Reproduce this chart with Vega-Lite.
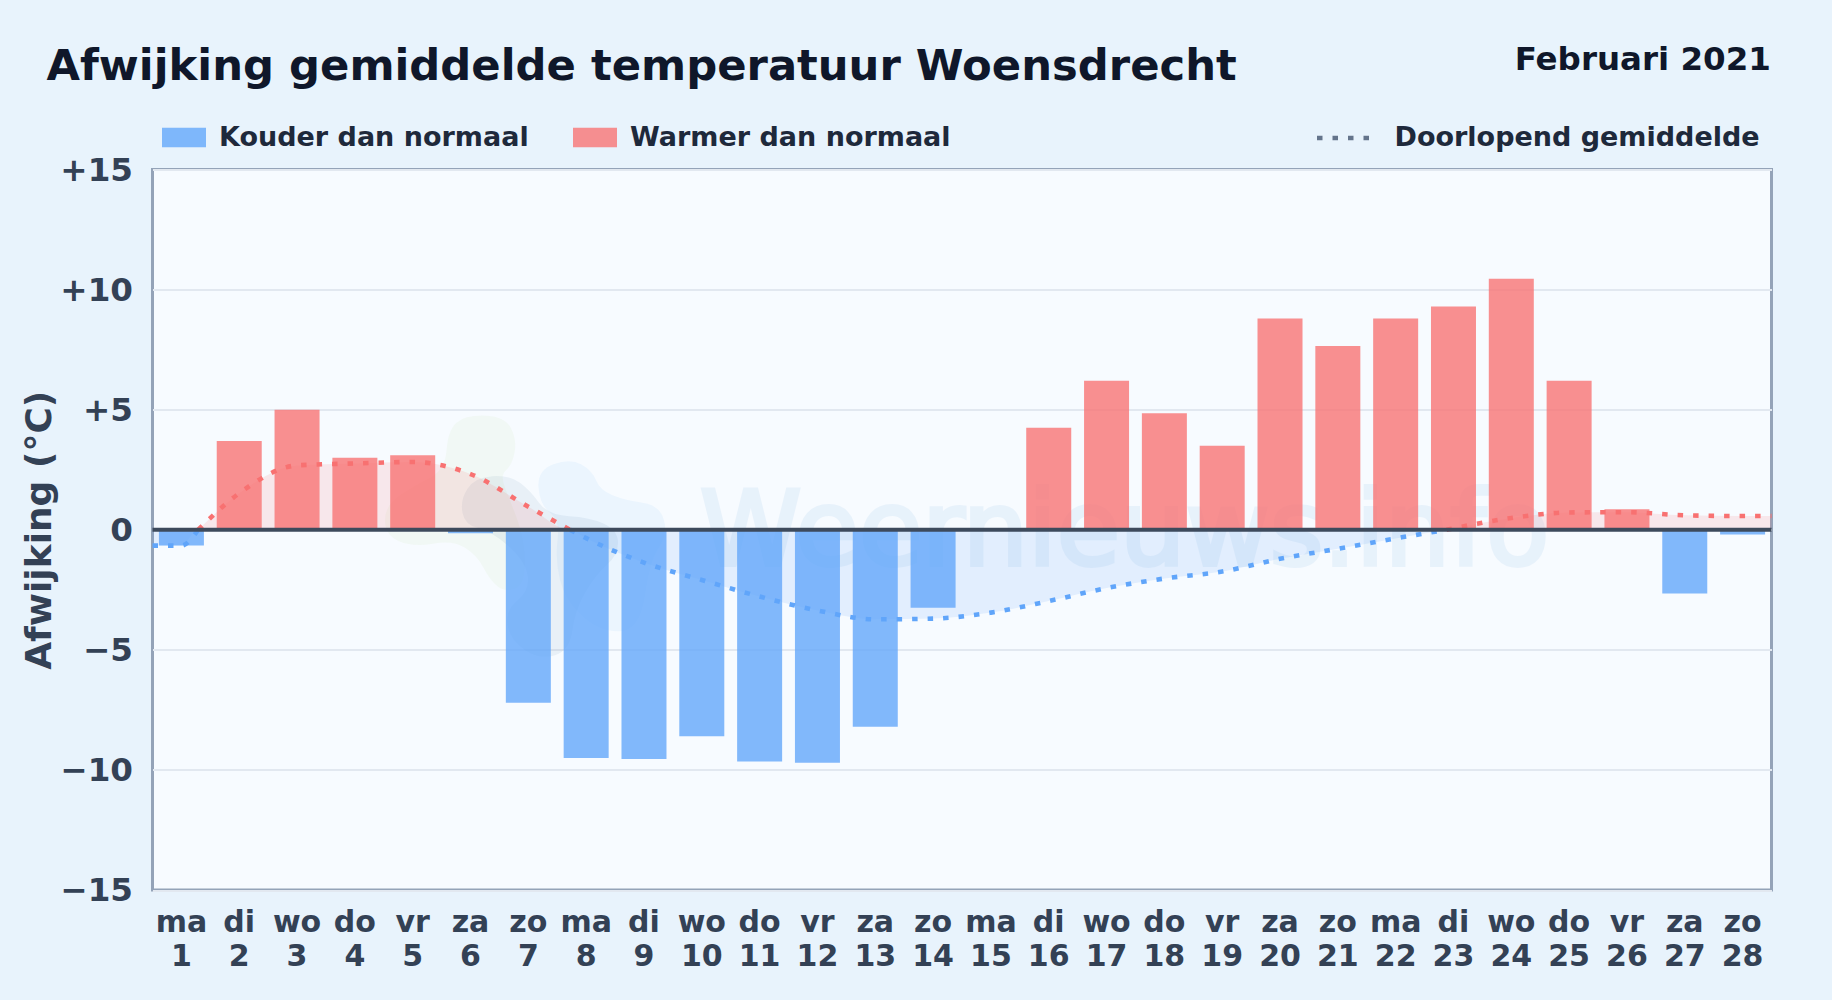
{
"$schema":"https://vega.github.io/schema/vega-lite/v6.json",
"width":1619,"height":720.5,
"autosize":{"type":"none"},
"padding":{"left":152.5,"top":169.5,"right":60.5,"bottom":110},
"background":"#e8f3fc",
"view":{"fill":"#f7fbff","stroke":"#94a3b8","strokeWidth":3},
"config":{"font":"DejaVu Sans"},
"title":{"text":"Afwijking gemiddelde temperatuur Woensdrecht","anchor":"start","frame":"group","dx":-106,"offset":0,"dy":79,"baseline":"alphabetic","font":"DejaVu Sans","fontSize":43.3,"fontWeight":"bold","color":"#0f172a"},
"datasets":{
"dagen":[
{"dag":1,"afwijking":-0.66,"soort":"Kouder dan normaal"},
{"dag":2,"afwijking":3.7,"soort":"Warmer dan normaal"},
{"dag":3,"afwijking":5.0,"soort":"Warmer dan normaal"},
{"dag":4,"afwijking":3.0,"soort":"Warmer dan normaal"},
{"dag":5,"afwijking":3.1,"soort":"Warmer dan normaal"},
{"dag":6,"afwijking":-0.15,"soort":"Kouder dan normaal"},
{"dag":7,"afwijking":-7.2,"soort":"Kouder dan normaal"},
{"dag":8,"afwijking":-9.5,"soort":"Kouder dan normaal"},
{"dag":9,"afwijking":-9.55,"soort":"Kouder dan normaal"},
{"dag":10,"afwijking":-8.6,"soort":"Kouder dan normaal"},
{"dag":11,"afwijking":-9.65,"soort":"Kouder dan normaal"},
{"dag":12,"afwijking":-9.7,"soort":"Kouder dan normaal"},
{"dag":13,"afwijking":-8.2,"soort":"Kouder dan normaal"},
{"dag":14,"afwijking":-3.25,"soort":"Kouder dan normaal"},
{"dag":15,"afwijking":0,"soort":"Warmer dan normaal"},
{"dag":16,"afwijking":4.25,"soort":"Warmer dan normaal"},
{"dag":17,"afwijking":6.2,"soort":"Warmer dan normaal"},
{"dag":18,"afwijking":4.85,"soort":"Warmer dan normaal"},
{"dag":19,"afwijking":3.5,"soort":"Warmer dan normaal"},
{"dag":20,"afwijking":8.8,"soort":"Warmer dan normaal"},
{"dag":21,"afwijking":7.65,"soort":"Warmer dan normaal"},
{"dag":22,"afwijking":8.8,"soort":"Warmer dan normaal"},
{"dag":23,"afwijking":9.3,"soort":"Warmer dan normaal"},
{"dag":24,"afwijking":10.45,"soort":"Warmer dan normaal"},
{"dag":25,"afwijking":6.2,"soort":"Warmer dan normaal"},
{"dag":26,"afwijking":0.85,"soort":"Warmer dan normaal"},
{"dag":27,"afwijking":-2.65,"soort":"Kouder dan normaal"},
{"dag":28,"afwijking":-0.2,"soort":"Kouder dan normaal"}
],
"gemiddelde":[
{"dag":0.5,"waarde":-0.66,"deel":"a","soort":"Kouder dan normaal","reeks":"Doorlopend gemiddelde"},
{"dag":1,"waarde":-0.66,"deel":"a","soort":"Kouder dan normaal","reeks":"Doorlopend gemiddelde"},
{"dag":1.29,"waarde":0,"deel":"a","soort":"Kouder dan normaal","reeks":"Doorlopend gemiddelde"},
{"dag":1.29,"waarde":0,"deel":"b","soort":"Warmer dan normaal","reeks":"Doorlopend gemiddelde"},
{"dag":2,"waarde":1.52,"deel":"b","soort":"Warmer dan normaal","reeks":"Doorlopend gemiddelde"},
{"dag":3,"waarde":2.68,"deel":"b","soort":"Warmer dan normaal","reeks":"Doorlopend gemiddelde"},
{"dag":4,"waarde":2.76,"deel":"b","soort":"Warmer dan normaal","reeks":"Doorlopend gemiddelde"},
{"dag":5,"waarde":2.82,"deel":"b","soort":"Warmer dan normaal","reeks":"Doorlopend gemiddelde"},
{"dag":6,"waarde":2.32,"deel":"b","soort":"Warmer dan normaal","reeks":"Doorlopend gemiddelde"},
{"dag":7,"waarde":0.96,"deel":"b","soort":"Warmer dan normaal","reeks":"Doorlopend gemiddelde"},
{"dag":7.72,"waarde":0,"deel":"b","soort":"Warmer dan normaal","reeks":"Doorlopend gemiddelde"},
{"dag":7.72,"waarde":0,"deel":"c","soort":"Kouder dan normaal","reeks":"Doorlopend gemiddelde"},
{"dag":8,"waarde":-0.35,"deel":"c","soort":"Kouder dan normaal","reeks":"Doorlopend gemiddelde"},
{"dag":9,"waarde":-1.37,"deel":"c","soort":"Kouder dan normaal","reeks":"Doorlopend gemiddelde"},
{"dag":10,"waarde":-2.09,"deel":"c","soort":"Kouder dan normaal","reeks":"Doorlopend gemiddelde"},
{"dag":11,"waarde":-2.78,"deel":"c","soort":"Kouder dan normaal","reeks":"Doorlopend gemiddelde"},
{"dag":12,"waarde":-3.36,"deel":"c","soort":"Kouder dan normaal","reeks":"Doorlopend gemiddelde"},
{"dag":13,"waarde":-3.73,"deel":"c","soort":"Kouder dan normaal","reeks":"Doorlopend gemiddelde"},
{"dag":14,"waarde":-3.7,"deel":"c","soort":"Kouder dan normaal","reeks":"Doorlopend gemiddelde"},
{"dag":15,"waarde":-3.45,"deel":"c","soort":"Kouder dan normaal","reeks":"Doorlopend gemiddelde"},
{"dag":16,"waarde":-2.97,"deel":"c","soort":"Kouder dan normaal","reeks":"Doorlopend gemiddelde"},
{"dag":17,"waarde":-2.43,"deel":"c","soort":"Kouder dan normaal","reeks":"Doorlopend gemiddelde"},
{"dag":18,"waarde":-2.03,"deel":"c","soort":"Kouder dan normaal","reeks":"Doorlopend gemiddelde"},
{"dag":19,"waarde":-1.74,"deel":"c","soort":"Kouder dan normaal","reeks":"Doorlopend gemiddelde"},
{"dag":20,"waarde":-1.21,"deel":"c","soort":"Kouder dan normaal","reeks":"Doorlopend gemiddelde"},
{"dag":21,"waarde":-0.79,"deel":"c","soort":"Kouder dan normaal","reeks":"Doorlopend gemiddelde"},
{"dag":22,"waarde":-0.36,"deel":"c","soort":"Kouder dan normaal","reeks":"Doorlopend gemiddelde"},
{"dag":22.88,"waarde":0,"deel":"c","soort":"Kouder dan normaal","reeks":"Doorlopend gemiddelde"},
{"dag":22.88,"waarde":0,"deel":"d","soort":"Warmer dan normaal","reeks":"Doorlopend gemiddelde"},
{"dag":23,"waarde":0.06,"deel":"d","soort":"Warmer dan normaal","reeks":"Doorlopend gemiddelde"},
{"dag":24,"waarde":0.49,"deel":"d","soort":"Warmer dan normaal","reeks":"Doorlopend gemiddelde"},
{"dag":25,"waarde":0.72,"deel":"d","soort":"Warmer dan normaal","reeks":"Doorlopend gemiddelde"},
{"dag":26,"waarde":0.73,"deel":"d","soort":"Warmer dan normaal","reeks":"Doorlopend gemiddelde"},
{"dag":27,"waarde":0.6,"deel":"d","soort":"Warmer dan normaal","reeks":"Doorlopend gemiddelde"},
{"dag":28,"waarde":0.57,"deel":"d","soort":"Warmer dan normaal","reeks":"Doorlopend gemiddelde"},
{"dag":28.5,"waarde":0.57,"deel":"d","soort":"Warmer dan normaal","reeks":"Doorlopend gemiddelde"}
]
},
"encoding":{
"x":{"field":"dag","type":"quantitative","title":null,"scale":{"domain":[0.5,28.5],"nice":false,"zero":false,"padding":0},
"axis":{"values":[1,2,3,4,5,6,7,8,9,10,11,12,13,14,15,16,17,18,19,20,21,22,23,24,25,26,27,28],"grid":false,"domain":false,"ticks":false,"labelOverlap":false,"labelFlush":false,"labelBound":false,"labelAngle":0,"labelAlign":"center","labelBaseline":"top","labelPadding":17,"labelLineHeight":34,"labelOffset":-0.5,"labelFont":"DejaVu Sans","labelFontSize":30,"labelFontWeight":"bold","labelColor":"#334155","labelExpr":"[['ma','di','wo','do','vr','za','zo'][(datum.value-1)%7], ''+datum.value]"}},
"y":{"type":"quantitative","title":"Afwijking (°C)","scale":{"domain":[-15,15],"nice":false,"zero":false},
"axis":{"values":[-15,-10,-5,0,5,10,15],"grid":true,"gridColor":"#e2e8f0","gridWidth":2,"domain":false,"ticks":false,"labelPadding":20,"labelOffset":0.5,"labelFont":"DejaVu Sans","labelFontSize":32.6,"labelFontWeight":"bold","labelColor":"#334155","labelExpr":"datum.value>0?'+'+datum.value:(datum.value<0?'−'+abs(datum.value):'0')","titleFont":"DejaVu Sans","titleFontSize":36,"titleFontWeight":"bold","titleColor":"#334155","titlePadding":1}}
},
"layer":[
{"data":{"values":[{"dag":6.51,"waarde":0.4}]},"mark":{"type":"point","filled":true,"size":4,"opacity":0.07,"color":"#a3d977","shape":"M-43.5 -97.5 Q-35 -105 -15 -104.5 Q5 -104 11 -92 Q17 -80 14.5 -67.5 Q12 -55 6 -50 Q0 -45 5 -32.5 Q10 -20 17.5 0 Q25 20 25 42.5 Q25 65 15 68.5 Q5 72 -2.5 66 Q-10 60 -16.5 47.5 Q-23 35 -35 27.5 Q-47 20 -67 23.5 Q-87 27 -101 21 Q-115 15 -115 0 Q-115 -15 -100 -25 Q-85 -35 -70 -42.5 Q-55 -50 -53.5 -70 Q-52 -90 -43.5 -97.5 Z"},"encoding":{"y":{"field":"waarde","type":"quantitative"}}},
{"data":{"values":[{"dag":6.51,"waarde":0.4}]},"mark":{"type":"point","filled":true,"size":4,"opacity":0.06,"color":"#3b9ae8","shape":"M53.5 -56 Q70 -62 81 -56 Q92 -50 96 -40 Q100 -30 112.5 -25 Q125 -20 142.5 -17.5 Q160 -15 164 0 Q168 15 159 27.5 Q150 40 145 75 Q140 110 120 111 Q100 112 82.5 96 Q65 80 60 60 Q55 40 57.5 20 Q60 0 50 -7.5 Q40 -15 38.5 -32.5 Q37 -50 53.5 -56 Z"},"encoding":{"y":{"field":"waarde","type":"quantitative"}}},
{"data":{"values":[{"dag":6.51,"waarde":0.4}]},"mark":{"type":"point","filled":true,"size":4,"opacity":0.08,"color":"#3f6f9f","shape":"M-32.5 -31.5 Q-25 -43 -7.5 -44 Q10 -45 20 -37.5 Q30 -30 39 -17.5 Q48 -5 69 -4 Q90 -3 104 3.5 Q118 10 118 22.5 Q118 35 106.5 45 Q95 55 85 72.5 Q75 90 72.5 110 Q70 130 55 135 Q40 140 25 130 Q10 120 7.5 105 Q5 90 17.5 80 Q30 70 27.5 55 Q25 40 7.5 25 Q-10 10 -22.5 7.5 Q-35 5 -37.5 -7.5 Q-40 -20 -32.5 -31.5 Z"},"encoding":{"y":{"field":"waarde","type":"quantitative"}}},
{"data":{"values":[{"dag":17.31,"waarde":-1.47,"tekst":"Weernieuws.info"}]},"mark":{"type":"text","font":"DejaVu Sans","fontSize":103,"align":"center","baseline":"alphabetic","color":"#3f8fd8","opacity":0.08,"stroke":"#3f8fd8","strokeWidth":4},"encoding":{"y":{"field":"waarde","type":"quantitative"},"text":{"field":"tekst"}}},
{"data":{"name":"gemiddelde"},"transform":[{"filter":"datum.soort==='Kouder dan normaal'"}],"mark":{"type":"area","interpolate":"monotone","opacity":0.14,"color":"#60a5fa"},"encoding":{"y":{"field":"waarde","type":"quantitative"},"detail":{"field":"deel"}}},
{"data":{"name":"gemiddelde"},"transform":[{"filter":"datum.soort==='Warmer dan normaal'"}],"mark":{"type":"area","interpolate":"monotone","opacity":0.14,"color":"#f87171"},"encoding":{"y":{"field":"waarde","type":"quantitative"},"detail":{"field":"deel"}}},
{"data":{"name":"dagen"},"mark":{"type":"bar","width":45,"opacity":0.78},"encoding":{"y":{"field":"afwijking","type":"quantitative"},"fill":{"field":"soort","type":"nominal","scale":{"domain":["Kouder dan normaal","Warmer dan normaal"],"range":["#60a5fa","#f87171"]},"legend":{"orient":"none","legendX":9.5,"legendY":-54,"direction":"horizontal","columns":2,"title":null,"padding":0,"symbolType":"M-1,-0.44H1V0.44H-1Z","symbolSize":1936,"symbolOpacity":0.78,"symbolStrokeWidth":0,"columnPadding":44,"labelOffset":13,"labelFont":"DejaVu Sans","labelFontSize":27,"labelFontWeight":"bold","labelColor":"#1e293b","labelLimit":500}}}},
{"data":{"name":"gemiddelde"},"mark":{"type":"line","interpolate":"monotone","strokeWidth":4.6,"strokeCap":"butt"},"encoding":{"y":{"field":"waarde","type":"quantitative"},"detail":{"field":"deel"},"stroke":{"field":"soort","type":"nominal","legend":null,"scale":{"domain":["Kouder dan normaal","Warmer dan normaal"],"range":["#60a5fa","#f87171"]}},"strokeDash":{"field":"reeks","type":"nominal","scale":{"domain":["Doorlopend gemiddelde"],"range":[[5.5,10]]},"legend":{"orient":"none","legendX":1162,"legendY":-62,"title":null,"padding":0,"symbolType":"stroke","symbolSize":3136,"symbolStrokeColor":"#64748b","symbolStrokeWidth":4.6,"labelOffset":19,"labelFont":"DejaVu Sans","labelFontSize":27,"labelFontWeight":"bold","labelColor":"#1e293b","labelLimit":500}}}},
{"data":{"values":[{"dag":0.5,"tot":28.5,"waarde":0}]},"mark":{"type":"rule","color":"#3d4a5c","strokeWidth":4},"encoding":{"x2":{"field":"tot"},"y":{"field":"waarde","type":"quantitative"}}},
{"data":{"values":[{"dag":28.49,"waarde":19.15,"tekst":"Februari 2021"}]},"mark":{"type":"text","font":"DejaVu Sans","fontSize":32.5,"fontWeight":"bold","align":"right","baseline":"alphabetic","color":"#0f172a"},"encoding":{"y":{"field":"waarde","type":"quantitative"},"text":{"field":"tekst"}}}
]
}
